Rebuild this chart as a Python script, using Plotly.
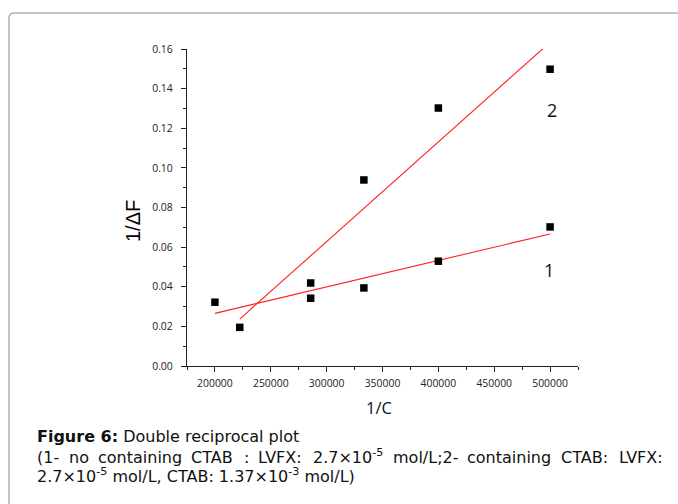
import numpy as np
import plotly.graph_objects as go

# ---- data ----
x1 = [200000, 285714, 333333, 400000, 500000]
y1 = [0.0322, 0.0342, 0.0394, 0.0529, 0.0702]
x2 = [222222, 285714, 333333, 400000, 500000]
y2 = [0.0195, 0.0419, 0.0939, 0.1302, 0.1498]
series_labels = ["1", "2"]
x_title = "1/C"
y_title = "1/ΔF"
caption_1 = "<b>Figure 6:</b> Double reciprocal plot"
caption_2_words = ["(1-", "no", "containing", "CTAB", ":", "LVFX:", "2.7×10|-5", "mol/L;2-",
                   "containing", "CTAB:", "LVFX:"]
caption_3 = "2.7×10<sup>-5</sup> mol/L, CTAB: 1.37×10<sup>-3</sup> mol/L)"

W, H = 678, 504
L, R, T, B = 187, 100, 49, 138
PW, PH = W - L - R, H - T - B


def px(xp):
    return (xp - L) / PW


def py(yp):
    return (H - B - yp) / PH


def fit(xs, ys):
    k, b = np.polyfit(xs, ys, 1)
    xx = np.array([min(xs), max(xs)], dtype=float)
    return xx, k * xx + b


# approximate DejaVu Sans advance widths (em) used to justify caption line 2
AW = {'(': .390, ')': .390, '1': .636, '-': .361, ' ': .318, 'n': .634, 'o': .612,
      'c': .550, 't': .392, 'a': .613, 'i': .278, 'g': .635, 'C': .698, 'T': .611,
      'A': .684, 'B': .686, ':': .337, 'L': .557, 'V': .684, 'F': .575, 'X': .685,
      '2': .636, '.': .318, '7': .636, '×': .838, '0': .636, '5': .636, 'm': .974,
      'l': .278, '/': .337, ';': .337, 'e': .615, '3': .636}


def word_width(w, size):
    if "|" in w:
        base, sup = w.split("|")
        return sum(AW[c] for c in base) * size + sum(AW[c] for c in sup) * size * 0.7
    return sum(AW[c] for c in w) * size


def word_html(w):
    if "|" in w:
        base, sup = w.split("|")
        return f"{base}<sup>{sup}</sup>"
    return w


fig = go.Figure()
for xs, ys in [(x1, y1), (x2, y2)]:
    fx, fy = fit(xs, ys)
    fig.add_trace(go.Scatter(x=fx, y=fy, mode="lines",
                             line=dict(color="#ff2020", width=1.1),
                             showlegend=False, hoverinfo="skip"))
    fig.add_trace(go.Scatter(x=xs, y=ys, mode="markers",
                             marker=dict(symbol="square", size=7.5, color="black",
                                         line=dict(width=0)),
                             showlegend=False, cliponaxis=False))

tickfont = dict(family="Open Sans", size=10.4, color="#222")
fig.update_xaxes(range=[175000, 525000], dtick=50000, tick0=0,
                 showline=True, linecolor="#222", linewidth=1.3,
                 ticks="outside", ticklen=5, tickwidth=1, tickcolor="#222",
                 minor=dict(dtick=25000, tick0=0, ticks="outside", ticklen=3,
                            tickwidth=1, tickcolor="#222"),
                 showgrid=False, zeroline=False, tickfont=tickfont,
                 tickformat="d", ticklabelstandoff=2)
fig.update_yaxes(range=[0, 0.16], dtick=0.02, tick0=0,
                 showline=True, linecolor="#222", linewidth=1.3,
                 ticks="outside", ticklen=5, tickwidth=1, tickcolor="#222",
                 minor=dict(dtick=0.01, tick0=0, ticks="outside", ticklen=3,
                            tickwidth=1, tickcolor="#222"),
                 showgrid=False, zeroline=False, tickfont=tickfont,
                 tickformat=".2f", ticklabelstandoff=6)


def note(x, y, text, font, **kw):
    d = dict(x=px(x), y=py(y), xref="paper", yref="paper", text=text,
             showarrow=False, font=font, xanchor="center", yanchor="middle")
    d.update(kw)
    return d


ann = []
ann.append(note(133, 221, y_title, dict(family="Liberation Sans", size=20, color="#000"),
                textangle=-90))
ann.append(note(379, 407, x_title, dict(family="Open Sans", size=16.5, color="#111")))
ann.append(note(549, 270, series_labels[0], dict(family="Open Sans", size=18, color="#111")))
ann.append(note(552, 110, series_labels[1], dict(family="Open Sans", size=18, color="#111")))

# caption (bottom of each text box ~ baseline + descent)
CS = 16
capfont = dict(family="DejaVu Sans", size=CS, color="#111")
x_left, x_right = 35, 662
ann.append(note(x_left, 448, caption_1, capfont, xanchor="left", yanchor="bottom"))
ann.append(note(x_left, 487.5, caption_3, capfont, xanchor="left", yanchor="bottom"))
widths = [word_width(w, CS) for w in caption_2_words]
gap = (x_right - x_left - sum(widths)) / (len(caption_2_words) - 1)
xc = x_left
for w, ww in zip(caption_2_words, widths):
    ann.append(note(xc, 469, word_html(w), capfont, xanchor="left", yanchor="bottom"))
    xc += ww + gap

# rounded border frame
r = 5
pts = (f"M {px(9)},{py(520)} L {px(9)},{py(13 + r)} "
       f"Q {px(9)},{py(13)} {px(9 + r)},{py(13)} L {px(700)},{py(13)}")
fig.add_shape(type="path", path=pts, xref="paper", yref="paper",
              line=dict(color="#b0b0b0", width=1.5))

fig.update_layout(width=W, height=H, margin=dict(l=L, r=R, t=T, b=B),
                  paper_bgcolor="white", plot_bgcolor="white",
                  annotations=ann, showlegend=False)
fig.write_html("out.html")
